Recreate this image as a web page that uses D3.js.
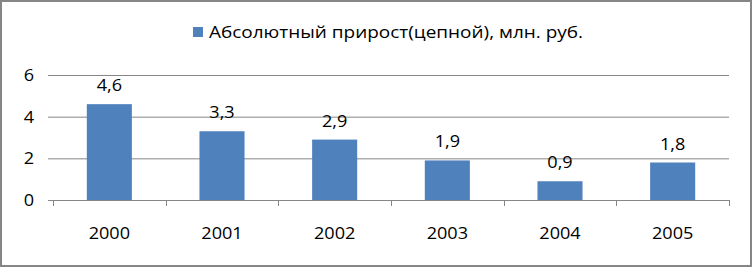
<!DOCTYPE html>
<html>
<head>
<meta charset="utf-8">
<script src="https://d3js.org/d3.v7.min.js"></script>
<style>
  body { margin: 0; background: #fff; }
  text { font-family: "Open Sans", "DejaVu Sans", sans-serif; fill: #000; }
</style>
</head>
<body>
<svg width="753" height="268"></svg>
<script>
// chart data
var years = ['2000', '2001', '2002', '2003', '2004', '2005'];
var values = [4.6, 3.3, 2.9, 1.9, 0.9, 1.8];
var yTicks = [0, 2, 4, 6];
var seriesName = 'Абсолютный прирост(цепной), млн. руб.';

var svg = d3.select('svg'),
    width = 753,
    height = 268;

var margin = {left: 53, right: 24, top: 75, bottom: 68};
var sx = 1.13; // reference text is a bit wide

var x = d3.scaleBand()
    .domain(years)
    .range([margin.left, width - margin.right])
    .paddingInner(0.6)
    .paddingOuter(0.3);

var y = d3.scaleLinear()
    .domain([0, 6])
    .range([height - margin.bottom, margin.top]);

var fmt = function(v) { return d3.format('.1f')(v).replace('.', ','); };

function label(g, tx, ty, txt, anchor) {
    g.append('text')
        .attr('transform', 'translate(' + tx + ',' + ty + ') scale(' + sx + ',1)')
        .attr('text-anchor', anchor || 'middle')
        .attr('font-size', 16)
        .text(txt);
}

// frame
svg.append('rect')
    .attr('x', 1).attr('y', 1)
    .attr('width', width - 3).attr('height', height - 3)
    .attr('fill', 'none')
    .attr('stroke', '#868686')
    .attr('stroke-width', 2);

// gridlines
var gy = svg.append('g');
gy.selectAll('line')
    .data(yTicks)
    .enter().append('line')
    .attr('x1', margin.left - 5).attr('x2', width - margin.right)
    .attr('y1', function(d) { return y(d) + 0.5; })
    .attr('y2', function(d) { return y(d) + 0.5; })
    .attr('stroke', '#868686');
yTicks.forEach(function(t) { label(gy, 34, y(t) + 6, String(t), 'end'); });

// bars
svg.selectAll('.bar')
    .data(values)
    .enter().append('rect')
    .attr('class', 'bar')
    .attr('x', function(d, i) { return x(years[i]); })
    .attr('y', function(d) { return y(d); })
    .attr('width', x.bandwidth())
    .attr('height', function(d) { return y(0) - y(d); })
    .attr('fill', '#4F81BD');

// value labels
var gl = svg.append('g');
values.forEach(function(v, i) {
    label(gl, x(years[i]) + x.bandwidth() / 2, y(v) - 13, fmt(v));
});

// x axis
var x0 = margin.left, x1 = width - margin.right;
var gx = svg.append('g');
gx.append('line')
    .attr('x1', x0).attr('x2', x1)
    .attr('y1', y(0) + 0.5).attr('y2', y(0) + 0.5)
    .attr('stroke', '#868686');
var bounds = d3.range(years.length + 1).map(function(i) { return x0 + i * (x1 - x0) / years.length; });
gx.selectAll('.tk')
    .data(bounds)
    .enter().append('line')
    .attr('x1', function(d) { return Math.round(d) + 0.5; })
    .attr('x2', function(d) { return Math.round(d) + 0.5; })
    .attr('y1', y(0)).attr('y2', y(0) + 6)
    .attr('stroke', '#868686');
years.forEach(function(d) { label(gx, x(d) + x.bandwidth() / 2, y(0) + 39, d); });

// legend
var lg = svg.append('g');
lg.append('rect')
    .attr('x', 193).attr('y', 27)
    .attr('width', 10).attr('height', 10)
    .attr('fill', '#4F81BD');
lg.append('text')
    .attr('x', 209).attr('y', 38)
    .attr('font-size', 17)
    .attr('textLength', 374)
    .attr('lengthAdjust', 'spacingAndGlyphs')
    .text(seriesName);
</script>
</body>
</html>
